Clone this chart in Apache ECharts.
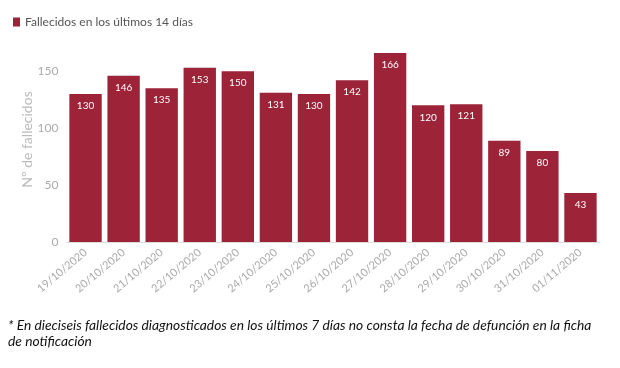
<!DOCTYPE html>
<html><head><meta charset="utf-8">
<script src="https://cdn.jsdelivr.net/npm/echarts@6/dist/echarts.min.js"></script>
<style>html,body{margin:0;padding:0;background:#fff}#c{width:620px;height:368px}</style>
</head><body><div id="c"></div>
<script>
const categories = ['19/10/2020','20/10/2020','21/10/2020','22/10/2020','23/10/2020','24/10/2020','25/10/2020','26/10/2020','27/10/2020','28/10/2020','29/10/2020','30/10/2020','31/10/2020','01/11/2020'];
const fallecidos = [130,146,135,153,150,131,130,142,166,120,121,89,80,43];
const seriesName = 'Fallecidos en los últimos 14 días';
const yAxisName = 'Nº de fallecidos';
const footnote1 = '* En dieciseis fallecidos diagnosticados en los últimos 7 días no consta la fecha de defunción en la ficha';
const footnote2 = 'de notificación';
const font = 'Lato, "Open Sans", sans-serif';
const chart = echarts.init(document.getElementById('c'));
chart.setOption({
  animation:false,
  textStyle:{fontFamily:font},
  legend:{left:8,top:11,itemWidth:7,itemHeight:9,itemGap:4,icon:'rect',
    textStyle:{color:'#555',fontSize:12,fontFamily:font},data:[seriesName]},
  grid:{left:66.5,right:20.5,top:37,bottom:126},
  xAxis:{type:'category',data:categories,
    axisLine:{show:true,lineStyle:{color:'#ddd'}},axisTick:{show:false},
    axisLabel:{rotate:40,color:'#aaa',fontSize:11,margin:9,fontFamily:font}},
  yAxis:{type:'value',min:0,max:180,interval:50,
    name:yAxisName,nameLocation:'middle',nameGap:32,nameRotate:90,nameMoveOverlap:false,
    nameTextStyle:{color:'#bbb',fontSize:14,fontFamily:font},
    axisLine:{show:false},axisTick:{show:false},splitLine:{show:false},
    axisLabel:{showMaxLabel:false,color:'#aaa',fontSize:12,margin:8,fontFamily:font}},
  series:[{name:seriesName,type:'bar',data:fallecidos,barCategoryGap:'15%',
    itemStyle:{color:'#9c2338'},
    label:{show:true,position:'insideTop',distance:7,color:'#fff',fontSize:10,fontFamily:font}}],
  graphic:[
    {type:'text',left:8,top:319,style:{text:footnote1,fill:'#111',font:'italic 13.8px '+font}},
    {type:'text',left:8,top:335,style:{text:footnote2,fill:'#111',font:'italic 13.8px '+font}}
  ]
});
</script></body></html>
